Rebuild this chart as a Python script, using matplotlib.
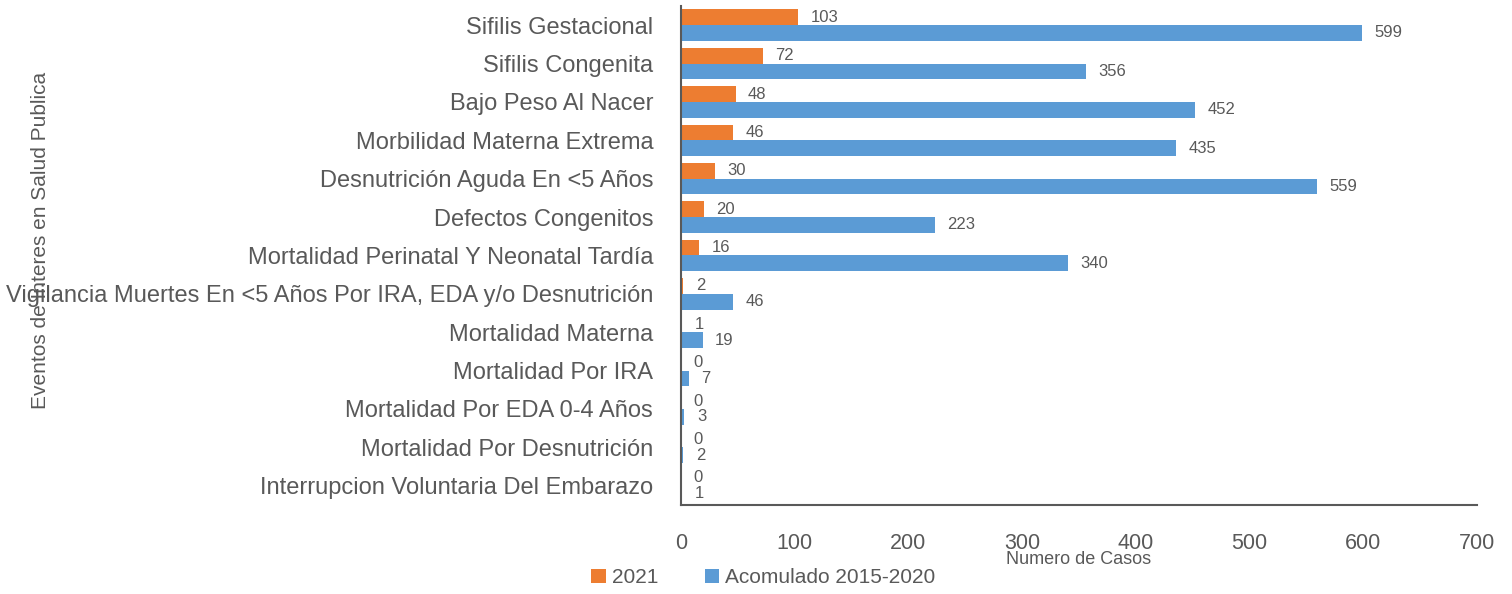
import matplotlib
matplotlib.use("Agg")
import matplotlib.pyplot as plt
import numpy as np

categories = [
    "Sifilis Gestacional",
    "Sifilis Congenita",
    "Bajo Peso Al Nacer",
    "Morbilidad Materna Extrema",
    "Desnutrición Aguda En <5 Años",
    "Defectos Congenitos",
    "Mortalidad Perinatal Y Neonatal Tardía",
    "Vigilancia Muertes En <5 Años Por IRA, EDA y/o Desnutrición",
    "Mortalidad Materna",
    "Mortalidad Por IRA",
    "Mortalidad Por EDA 0-4 Años",
    "Mortalidad Por Desnutrición",
    "Interrupcion Voluntaria Del Embarazo",
]
values_2021 = [103, 72, 48, 46, 30, 20, 16, 2, 1, 0, 0, 0, 0]
values_acum = [599, 356, 452, 435, 559, 223, 340, 46, 19, 7, 3, 2, 1]
series_names = ["2021", "Acomulado 2015-2020"]
xticks = [0, 100, 200, 300, 400, 500, 600, 700]

plt.rcParams['font.family'] = ['Liberation Sans', 'DejaVu Sans']
txt = "#595959"
c_or = "#ED7D31"
c_bl = "#5B9BD5"

fig = plt.figure(figsize=(15.12, 5.94), dpi=100)
ax = fig.add_axes([0.4504, 0.150, 0.5265, 0.840])

y = np.arange(len(categories))
h = 0.41
b1 = ax.barh(y - h / 2, values_2021, height=h, color=c_or, label=series_names[0])
b2 = ax.barh(y + h / 2, values_acum, height=h, color=c_bl, label=series_names[1])

for bars in (b1, b2):
    for r, v in zip(bars, bars.datavalues):
        ax.annotate(f"{int(v)}", (r.get_width(), r.get_y() + r.get_height() / 2),
                    xytext=(9, 0), textcoords="offset points", ha="left", va="center",
                    fontsize=12, color=txt)

ax.set_ylim(len(categories) - 0.5, -0.5)
ax.set_xlim(0, 700)
ax.set_xticks(xticks)
ax.set_yticks(y)
ax.set_yticklabels(categories, fontsize=17, color=txt)
ax.tick_params(axis="y", length=0, pad=20)
ax.tick_params(axis="x", length=0, pad=20, labelsize=15.5, labelcolor=txt)
for s in ("top", "right"):
    ax.spines[s].set_visible(False)
for s in ("left", "bottom"):
    ax.spines[s].set_color("#595959")
    ax.spines[s].set_linewidth(1.5)

ax.set_xlabel("Numero de Casos", fontsize=13, color=txt, labelpad=-2)
fig.text(0.027, 0.596, "Eventos de Interes en Salud Publica", rotation=90,
         ha="center", va="center", fontsize=15, color=txt)

fig.legend(handles=[b1, b2], labels=series_names, loc="center", bbox_to_anchor=(0.505, 0.027),
           ncol=2, frameon=False, fontsize=15, labelcolor=txt, handlelength=0.7,
           handleheight=0.7, handletextpad=0.3, columnspacing=2.2)

fig.savefig("out.png", dpi=100)
